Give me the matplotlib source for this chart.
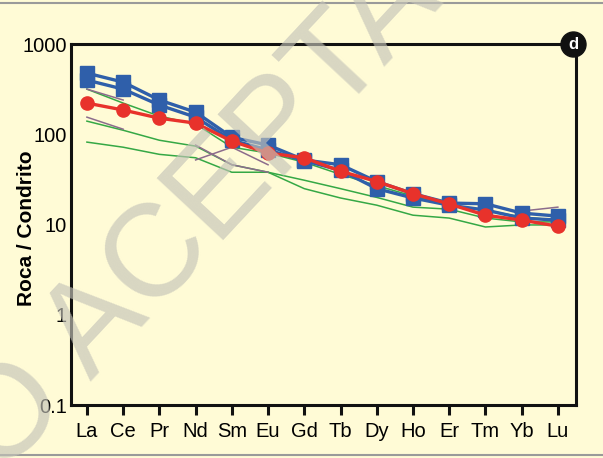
import matplotlib
matplotlib.use("Agg")
import matplotlib.pyplot as plt
import numpy as np

# REE elements (x axis)
elements = ["La", "Ce", "Pr", "Nd", "Sm", "Eu", "Gd", "Tb", "Dy", "Ho", "Er", "Tm", "Yb", "Lu"]

nan = np.nan

# Chondrite-normalised values
blue_1 = [477, 379, 240, 176, 93, 76, 52, 46, 30, 22, 17.3, 17.0, 13.4, 12.4]
blue_2 = [399, 317, 211, 155, 86, 67, 51, 40, 25, 19.7, 16.4, 14.5, 11.8, 11.2]
red_1 = [222, 186, 151, 133, 84, 62, 55, 39, 30, 22, 16.9, 12.7, 11.2, 9.6]
green_1 = [317, 222, 159, 130, 72, 62, 49, 36, 27, 20.7, 16.4, 14.5, 12.1, 11.2]
green_2 = [140, 111, 86, 74, 46, 38, 25, 19.7, 16.4, 12.7, 11.8, 9.4, 9.9, 9.9]
green_3 = [82, 72, 60, 55, 38, 38, 31, 25, 20, 15.6, 14.8, 11.8, 10.7, 10.7]
# purple samples only have some of the elements (gaps break the line)
purple_1 = [317, 240, nan, 76, 46, 38, nan, nan, nan, nan, nan, nan, 14.1, 15.6]
purple_2 = [155, 114, nan, 52, 72, 46, nan, nan, nan, nan, nan, nan, 11.8, 11.2]

y_ticks = [0.1, 1, 10, 100, 1000]
y_tick_labels = ["0.1", "1", "10", "100", "1000"]

BG = "#fffbd6"

plt.rcParams["font.family"] = ["Liberation Sans", "DejaVu Sans"]

fig = plt.figure(figsize=(6.03, 4.58), dpi=100, facecolor=BG)
ax = fig.add_axes([0.1177, 0.1157, 0.8375, 0.788])
ax.set_facecolor(BG)

x = np.arange(len(elements))

# thin lines first
for vals in [green_1, green_2, green_3]:
    ax.plot(x, vals, color="#35a845", lw=1.1, zorder=2)
for vals in [purple_1, purple_2]:
    ax.plot(x, vals, color="#8c6c8c", lw=1.1, zorder=2)

# thick series with markers
for vals in [blue_1, blue_2]:
    ax.plot(x, vals, color="#2f5faa", lw=2.4, marker="s", ms=9.5,
            mec="#2f5faa", mfc="#2f5faa", zorder=3)
ax.plot(x, red_1, color="#e8322b", lw=2.4, marker="o", ms=9.5,
        mec="#e8322b", mfc="#e8322b", zorder=4)

ax.set_yscale("log")
ax.set_ylim(0.1, 1000)
ax.set_xlim(-0.44, 13.5)

ax.set_xticks(x)
ax.set_xticklabels(elements, fontsize=14.5)
ax.set_yticks(y_ticks)
ax.set_yticklabels(y_tick_labels, fontsize=14.5)
ax.yaxis.set_minor_locator(matplotlib.ticker.NullLocator())
ax.tick_params(axis="x", direction="out", length=7, width=2.2, pad=5, color="#111111")
ax.tick_params(axis="y", length=0, pad=3)

for side in ["left", "right", "top", "bottom"]:
    ax.spines[side].set_linewidth(2.2)
    ax.spines[side].set_color("#111111")

ax.set_ylabel("Roca / Condrito", fontsize=15, fontweight="bold")
ax.yaxis.set_label_coords(-0.07, 0.49)

# panel badge "d" at the top right corner
ax.plot([0.995], [1.0], transform=ax.transAxes, marker="o", ms=18,
        mfc="#111111", mec="#111111", clip_on=False, zorder=6)
ax.text(0.995, 1.0, "d", transform=ax.transAxes, ha="center", va="center",
        color="white", fontsize=12, fontweight="bold", zorder=7)

# watermark
fig.text(0.386, 0.607, "NO ACEPTADO", ha="center", va="center", rotation=47,
         rotation_mode="anchor", fontsize=95, color="#c4c3b8", alpha=0.65, zorder=10)

# grey frame lines top and bottom
fig.add_artist(plt.Line2D([0, 1], [0.993, 0.993], color="#9a9a9a", lw=1.5))
fig.add_artist(plt.Line2D([0, 1], [0.007, 0.007], color="#9a9a9a", lw=1.5))

fig.savefig("out.png", dpi=100, facecolor=BG)
